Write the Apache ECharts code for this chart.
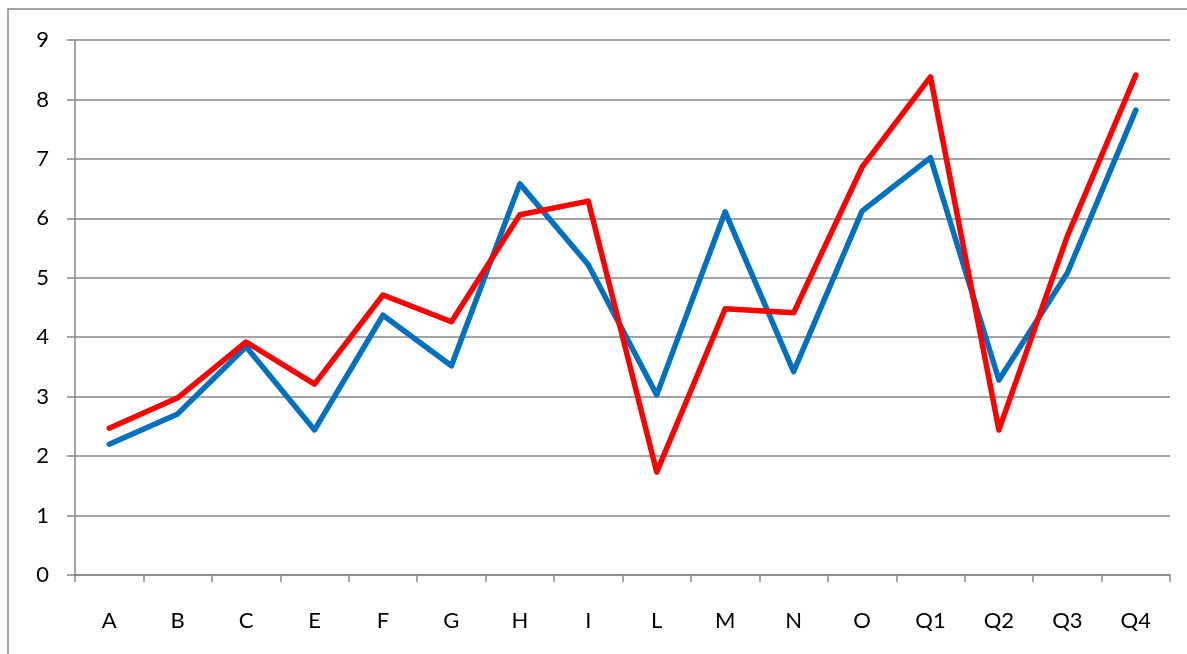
<!DOCTYPE html>
<html><head><meta charset="utf-8">
<script src="https://cdn.jsdelivr.net/npm/echarts@6/dist/echarts.min.js"></script>
<style>html,body{margin:0;padding:0;background:#fff}#c{width:1187px;height:654px}</style>
</head><body><div id="c"></div>
<script>
const categories = ['A','B','C','E','F','G','H','I','L','M','N','O','Q1','Q2','Q3','Q4'];
const blueValues = [2.20,2.71,3.84,2.44,4.37,3.52,6.58,5.22,3.03,6.11,3.42,6.12,7.02,3.28,5.08,7.82];
const redValues  = [2.47,2.98,3.92,3.21,4.71,4.26,6.06,6.29,1.73,4.48,4.41,6.86,8.38,2.44,5.70,8.41];
const yTicks = [0,1,2,3,4,5,6,7,8,9];

const chart = echarts.init(document.getElementById('c'));
const font = 'Lato';
chart.setOption({
  animation:false,
  backgroundColor:'#fff',
  textStyle:{fontFamily:font,fontSize:22},
  graphic:[{type:'rect',shape:{x:8,y:9,width:1300,height:800},style:{fill:'none',stroke:'#868686',lineWidth:1.5},silent:true,z:-1}],
  grid:{left:75,right:17,top:40,bottom:79},
  xAxis:{type:'category',data:categories,boundaryGap:true,
    axisLine:{lineStyle:{color:'#868686',width:1.5}},
    axisTick:{show:true,length:7,lineStyle:{color:'#868686',width:1.5}},
    axisLabel:{color:'#000',fontSize:22,fontFamily:font,margin:35},
    splitLine:{show:false}},
  yAxis:{type:'value',min:yTicks[0],max:yTicks[yTicks.length-1],interval:1,
    axisLine:{show:true,lineStyle:{color:'#868686',width:1.5}},
    axisTick:{show:true,length:8,lineStyle:{color:'#868686',width:1.5}},
    axisLabel:{color:'#000',fontSize:22,fontFamily:font,margin:26},
    splitLine:{show:true,lineStyle:{color:'#868686',width:1.5}}},
  series:[
    {type:'line',data:blueValues,showSymbol:false,lineStyle:{color:'#0070C0',width:5.5,cap:'round',join:'round'},itemStyle:{color:'#0070C0'}},
    {type:'line',data:redValues,showSymbol:false,lineStyle:{color:'#FF0000',width:5.5,cap:'round',join:'round'},itemStyle:{color:'#FF0000'}}
  ]
});
</script></body></html>
